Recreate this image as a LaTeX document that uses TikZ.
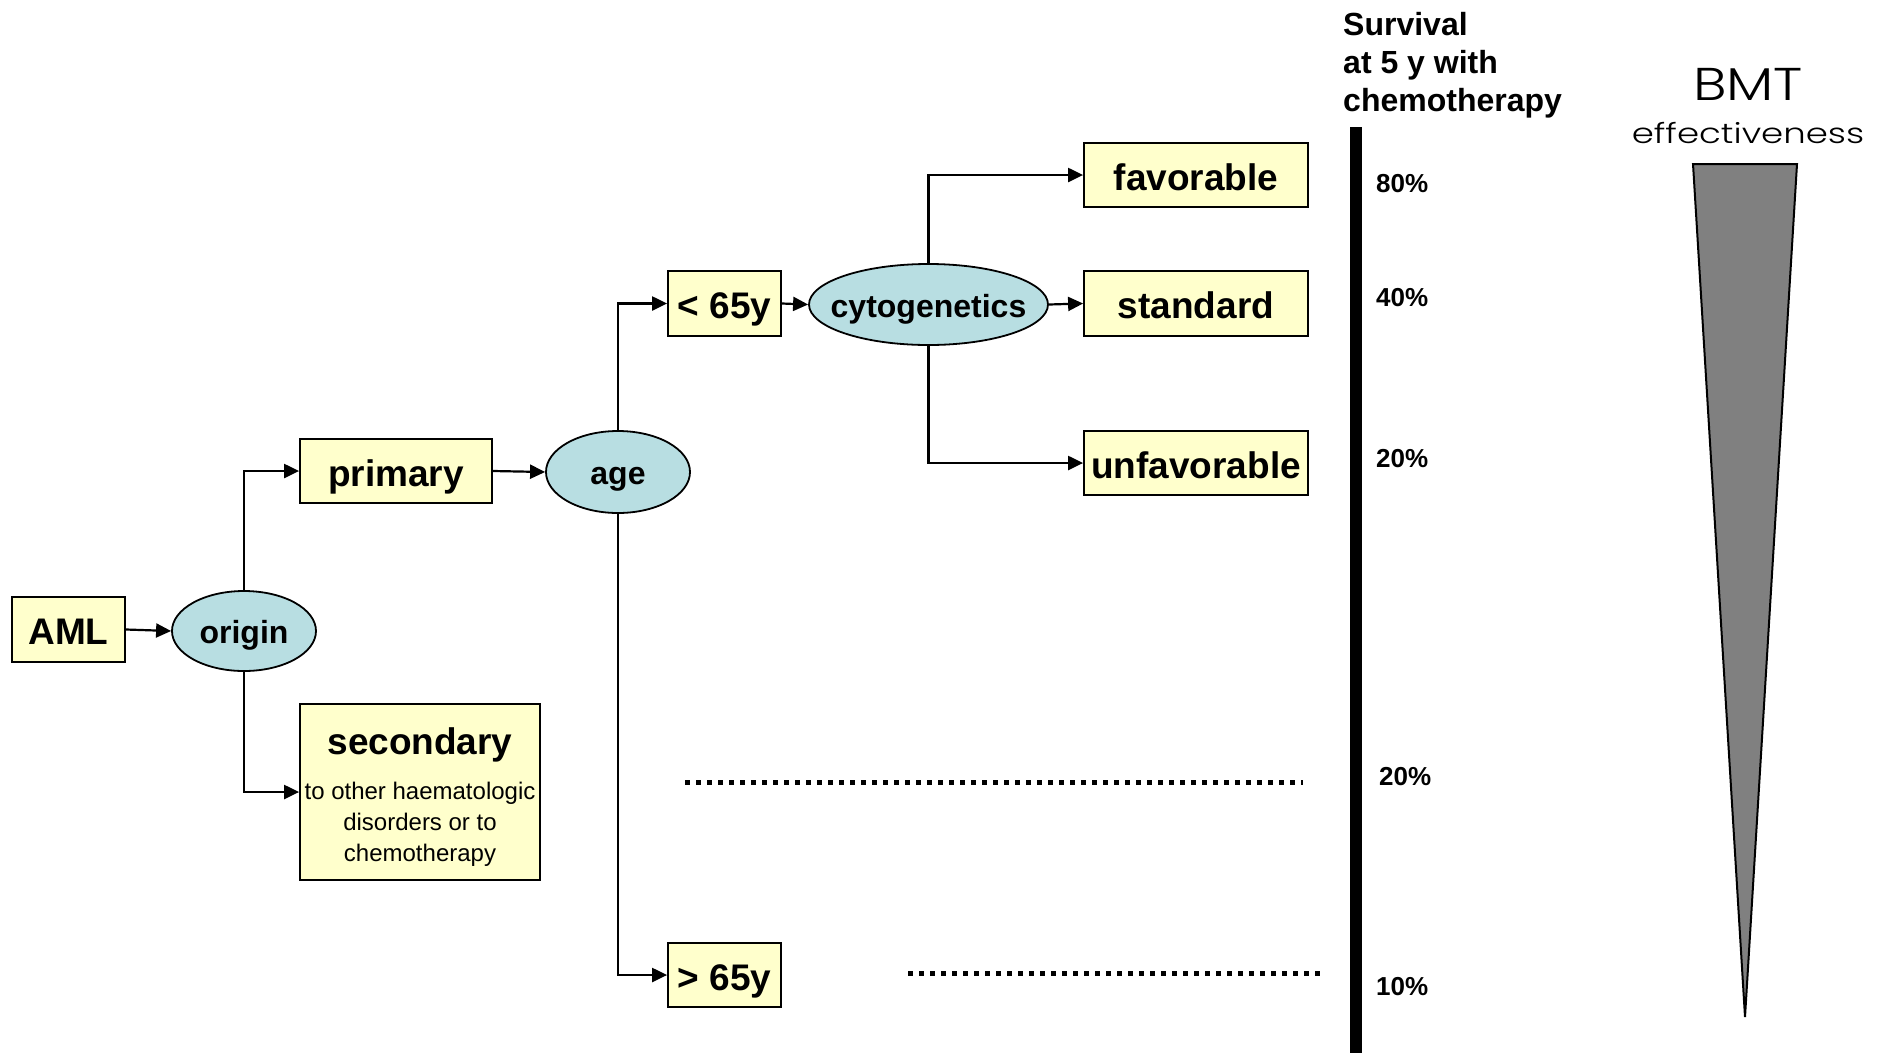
\documentclass[tikz,border=0pt]{standalone}
\usepackage{fontspec}
\setmainfont{Liberation Sans}
\newfontfamily\bmtfont{Poppins}[UprightFont=* Light]
\usetikzlibrary{arrows.meta,shapes.geometric}
\definecolor{boxyellow}{RGB}{255,255,204}
\definecolor{ellblue}{RGB}{184,222,226}
\definecolor{wedgegray}{RGB}{128,128,128}
\begin{document}
\begin{tikzpicture}[x=1pt,y=-1pt,
  box/.style={draw=black, fill=boxyellow, line width=1.8pt, rectangle, inner sep=0pt,
    text height=30pt, text depth=0pt,
    font=\fontsize{37}{44}\selectfont\bfseries},
  oval/.style={draw=black, fill=ellblue, line width=1.8pt, ellipse, inner ysep=0pt, inner xsep=-20pt,
    text height=25pt, text depth=0pt,
    font=\fontsize{32}{38}\selectfont\bfseries},
  arr/.style={line width=2.2pt, -{Triangle[length=15pt,width=14pt]}},
  pct/.style={anchor=west, inner sep=0pt, font=\fontsize{26}{31}\selectfont\bfseries},
  head/.style={anchor=base west, inner sep=0pt, font=\fontsize{32}{38}\selectfont\bfseries},
  dots/.style={line width=5pt, dash pattern=on 5pt off 6pt},
]
\useasboundingbox (0,0) rectangle (1887,1053);

% tree nodes
\node[box, minimum width=113, minimum height=65] (aml) at (68.5,629.5) {AML};
\node[oval, minimum width=144, minimum height=80] (origin) at (244,631) {origin};
\node[box, minimum width=192, minimum height=64] (primary) at (396,471) {primary};
\node[draw=black, fill=boxyellow, line width=1.8pt, rectangle, inner sep=0pt,
      minimum width=240, minimum height=176, align=center,
      font=\fontsize{24}{31}\selectfont] (secondary) at (420,792)
  {{\fontsize{37}{44}\selectfont\bfseries\rule{0pt}{37pt}secondary}\\[14pt]to other haematologic\\disorders or to\\chemotherapy};
\node[oval, minimum width=144, minimum height=82] (age) at (618,472) {age};
\node[box, minimum width=113, minimum height=65] (lt) at (724.5,303.5) {< 65y};
\node[box, minimum width=113, minimum height=64] (gt) at (724.5,975) {> 65y};
\node[oval, minimum width=239, minimum height=81] (cyto) at (928.5,304.5) {cytogenetics};
\node[box, minimum width=224, minimum height=64] (fav) at (1196,175) {favorable};
\node[box, minimum width=224, minimum height=65] (std) at (1196,303.5) {standard};
\node[box, minimum width=224, minimum height=64] (unfav) at (1196,463) {unfavorable};

% connectors
\draw[arr] (aml.east) -- (origin.west);
\draw[arr] (origin.north) |- (primary.west);
\draw[arr] (origin.south) |- (secondary.west);
\draw[arr] (primary.east) -- (age.west);
\draw[arr] (age.north) |- (lt.west);
\draw[arr] (age.south) |- (gt.west);
\draw[arr] (lt.east) -- (cyto.west);
\draw[arr] (cyto.north) |- (fav.west);
\draw[arr] (cyto.east) -- (std.west);
\draw[arr] (cyto.south) |- (unfav.west);

% dotted lines
\coordinate (d1a) at (685,782);
\coordinate (d1b) at (1303,782);
\coordinate (d2a) at (908,973.5);
\coordinate (d2b) at (1324,973.5);
\draw[dots] (d1a) -- (d1b);
\draw[dots] (d2a) -- (d2b);

% survival scale
\fill[black] (1350,127) rectangle (1362,1053);
\node[head] (s1) at (1343,35) {Survival};
\node[head] (s2) at (1343,73) {at 5 y with};
\node[head] (s3) at (1343,111) {chemotherapy};
\node[pct] (p80) at (1376,183.5) {80\%};
\node[pct] (p40) at (1376,298) {40\%};
\node[pct] (p20a) at (1376,458.5) {20\%};
\node[pct] (p20b) at (1379,777) {20\%};
\node[pct] (p10) at (1376,987) {10\%};

% BMT effectiveness
\node[anchor=base, inner sep=0pt, font=\bmtfont\fontsize{46}{50}\selectfont] (bmt) at (1748,100) {\scalebox{1.22}[1]{BMT}};
\node[anchor=base, inner sep=0pt, font=\bmtfont\fontsize{28}{32}\selectfont] (eff) at (1748,143) {\scalebox{1.27}[1]{effectiveness}};
\filldraw[fill=wedgegray, draw=black, line width=2pt] (1693,164) -- (1797,164) -- (1745,1017) -- cycle;
\end{tikzpicture}
\end{document}
